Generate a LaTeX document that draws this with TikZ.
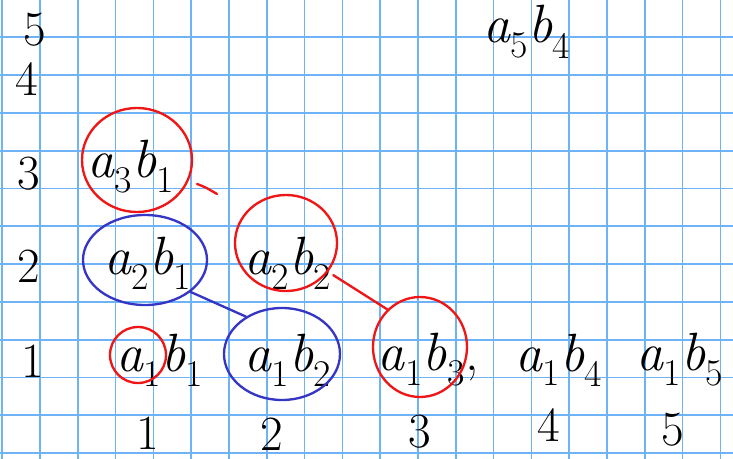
\documentclass[tikz,border=0pt]{standalone}
\usetikzlibrary{shapes.geometric}
\definecolor{gridblue}{HTML}{6EB2F7}
\definecolor{inkred}{HTML}{EE1616}
\definecolor{inkblue}{HTML}{3636C4}
\newcommand{\ab}[2]{\textit{a}\textsubscript{#1}\textit{b}\textsubscript{#2}}

\begin{document}
\begin{tikzpicture}[
  x=0.03cm, y=-0.03cm,
  gridline/.style={gridblue, line width=1.5pt},
  lbl/.style={inner sep=1pt, font=\fontsize{46}{50}\selectfont},
  num/.style={inner sep=0pt, font=\fontsize{42}{44}\selectfont},
  ring/.style={ellipse, draw, line width=2pt, inner sep=0pt},
  redring/.style={ring, draw=inkred},
  bluering/.style={ring, draw=inkblue},
  redline/.style={inkred, line width=2pt, line cap=round},
  blueline/.style={inkblue, line width=2pt, line cap=round}
]
\useasboundingbox (0,0) rectangle (733,459);

% ================= grid paper =================
\foreach \k in {0,...,19} {\draw[gridline] (2.2+\k*37.8, 0) -- (2.2+\k*37.8, 459);}
\foreach \k in {1,...,12} {\draw[gridline] (0, -0.5+\k*37.8) -- (733, -0.5+\k*37.8);}

% ================= axis numbers =================
\node[num] (row5) at (35, 30)  {5};
\node[num] (row4) at (27, 79)  {4};
\node[num] (row3) at (29, 174) {3};
\node[num] (row2) at (29, 266) {2};
\node[num] (row1) at (33, 361) {1};

\node[num] (col1) at (148, 433) {1};
\node[num] (col2) at (272, 434) {2};
\node[num] (col3) at (420, 432) {3};
\node[num] (col4) at (549, 425) {4};
\node[num] (col5) at (673, 430) {5};

% ================= products =================
\node[lbl] (t54) at (527, 32)  {\ab{5}{4}};
\node[lbl] (t31) at (131, 167) {\ab{3}{1}};
\node[lbl] (t21) at (148, 263) {\ab{2}{1}};
\node[lbl] (t22) at (288, 263) {\ab{2}{2}};
\node[lbl] (t11) at (160, 360) {\ab{1}{1}};
\node[lbl] (t12) at (288, 360) {\ab{1}{2}};
\node[lbl] (t13) at (428, 360) {\ab{1}{3},};
\node[lbl] (t14) at (559, 360) {\ab{1}{4}};
\node[lbl] (t15) at (680, 360) {\ab{1}{5}};

% ================= rings =================
\node[redring, minimum width=3.30cm, minimum height=3.12cm] (o31) at (137, 160) {};
\node[redring, minimum width=3.06cm, minimum height=2.88cm] (o22) at (286, 243) {};
\node[redring, minimum width=2.82cm, minimum height=3.00cm] (o13) at (420, 347) {};
\node[redring, minimum width=1.68cm, minimum height=1.68cm] (o11) at (138, 355) {};
\node[bluering, minimum width=3.72cm, minimum height=2.70cm] (o21) at (145, 260) {};
\node[bluering, minimum width=3.48cm, minimum height=2.76cm] (o12) at (282, 354) {};

% links
\draw[blueline] (o21.-35) -- (o12.134);
\draw[redline] (t22.-15) -- (o13.131);
\draw[redline] (197, 184) .. controls (205, 187) .. (217, 194);

\end{tikzpicture}
\end{document}
